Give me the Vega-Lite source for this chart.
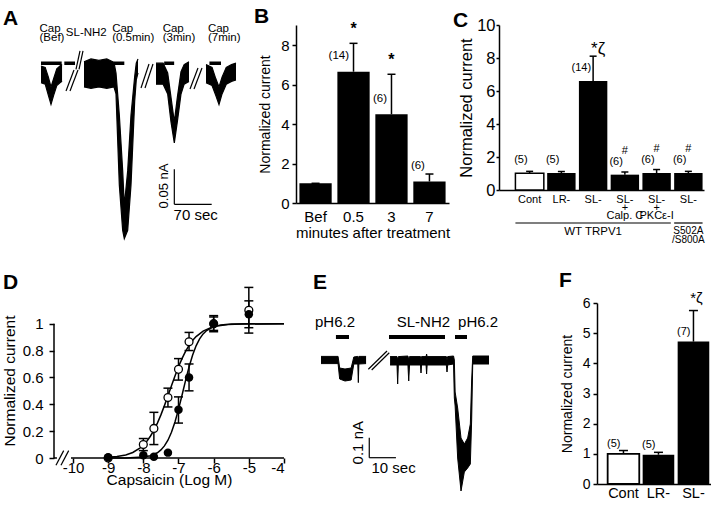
{
  "$schema": "https://vega.github.io/schema/vega-lite/v6.json",
  "padding": {"left": 2, "top": 6, "right": 0, "bottom": 0},
  "config": {
    "font": "Liberation Sans",
    "view": {"stroke": null},
    "axis": {"grid": false, "labelOverlap": false, "domainColor": "black", "tickColor": "black", "labelColor": "black", "titleColor": "black", "titleFontWeight": "normal", "domainWidth": 1.5, "tickWidth": 1.5},
    "title": {"fontWeight": "bold", "fontSize": 21, "anchor": "start", "frame": "group", "color": "black", "baseline": "alphabetic"}
  },
  "spacing": 24,
  "vconcat": [
    {
      "hconcat": [
        {
          "width": 192, "height": 214,
          "title": {"text": "A", "dx": -51, "offset": 1, "dy": 7},
          "layer": [
            {"data": {"name": "traceA"}, "mark": {"type": "area", "color": "black"},
             "encoding": {
               "x": {"field": "t", "type": "quantitative", "scale": {"domain": [24.7, 389.5], "nice": false, "zero": false}, "axis": null},
               "y": {"field": "lo", "type": "quantitative", "scale": {"domain": [-0.2374, 0.0686], "nice": false, "zero": false}, "axis": null},
               "y2": {"field": "hi"},
               "detail": {"field": "seg"}}},
            {"data": {"name": "traceA"}, "mark": {"type": "line", "color": "black", "strokeWidth": 1.2},
             "encoding": {"x": {"field": "t", "type": "quantitative"}, "y": {"field": "lo", "type": "quantitative"}, "detail": {"field": "seg"}}},
            {"data": {"name": "traceA"}, "mark": {"type": "line", "color": "black", "strokeWidth": 1.2},
             "encoding": {"x": {"field": "t", "type": "quantitative"}, "y": {"field": "hi", "type": "quantitative"}, "detail": {"field": "seg"}}},
            {"data": {"name": "breaksA"}, "mark": {"type": "rule", "color": "black", "strokeWidth": 1.2},
             "encoding": {"x": {"field": "t1", "type": "quantitative"}, "x2": {"field": "t2"}, "y": {"field": "i1", "type": "quantitative"}, "y2": {"field": "i2"}}},
            {"data": {"name": "appsA"}, "mark": {"type": "rule", "color": "black", "strokeWidth": 3.5},
             "encoding": {"x": {"field": "start", "type": "quantitative"}, "x2": {"field": "end"}, "y": {"datum": 0.0139, "type": "quantitative"}}},
            {"data": {"name": "appsA"}, "transform": [{"filter": "datum.label !== 'SL-NH2'"}],
             "mark": {"type": "text", "align": "left", "baseline": "middle", "dx": -1.5, "dy": -4.5, "fontSize": 11.5, "lineBreak": "\n", "lineHeight": 9},
             "encoding": {"x": {"field": "start", "type": "quantitative"}, "y": {"datum": 0.0565, "type": "quantitative"}, "text": {"field": "label"}}},
            {"data": {"name": "appsA"}, "transform": [{"filter": "datum.label === 'SL-NH2'"}],
             "mark": {"type": "text", "align": "left", "baseline": "middle", "dx": 1.5, "fontSize": 11.5},
             "encoding": {"x": {"field": "start", "type": "quantitative"}, "y": {"datum": 0.0565, "type": "quantitative"}, "text": {"field": "label"}}},
            {"data": {"values": [{}]}, "mark": {"type": "rule", "color": "black", "strokeWidth": 1.2},
             "encoding": {"x": {"datum": 253.3, "type": "quantitative"}, "y": {"datum": -0.1377, "type": "quantitative"}, "y2": {"datum": -0.1878}}},
            {"data": {"values": [{}]}, "mark": {"type": "rule", "color": "black", "strokeWidth": 1.2},
             "encoding": {"x": {"datum": 253.3, "type": "quantitative"}, "x2": {"datum": 324.3}, "y": {"datum": -0.1878, "type": "quantitative"}}},
            {"data": {"values": [{}]}, "mark": {"type": "text", "angle": 270, "baseline": "middle", "fontSize": 13},
             "encoding": {"x": {"datum": 234.3, "type": "quantitative"}, "y": {"datum": -0.1616, "type": "quantitative"}, "text": {"value": "0.05 nA"}}},
            {"data": {"values": [{}]}, "mark": {"type": "text", "baseline": "middle", "fontSize": 15},
             "encoding": {"x": {"datum": 293.9, "type": "quantitative"}, "y": {"datum": -0.203, "type": "quantitative"}, "text": {"value": "70 sec"}}}
          ]
        },
        {
          "width": 153, "height": 178,
          "title": {"text": "B", "dx": -42, "offset": 1, "dy": 7},
          "data": {"name": "barsB"},
          "encoding": {"x": {"field": "time", "type": "nominal", "sort": null, "scale": {"paddingInner": 0.15, "paddingOuter": 0.09},
            "axis": {"title": "minutes after treatment", "labelAngle": 0, "ticks": false, "labelFontSize": 15, "titleFontSize": 15, "labelPadding": 6, "titlePadding": 1}}},
          "layer": [
            {"mark": {"type": "bar", "color": "black"},
             "encoding": {"y": {"field": "mean", "type": "quantitative", "scale": {"domain": [0, 9.03], "nice": false},
               "axis": {"title": "Normalized current", "values": [0, 2, 4, 6, 8], "tickCount": 20, "format": "d", "tickSize": 4, "labelFontSize": 15, "titleFontSize": 14, "labelPadding": 3, "titlePadding": 8}}}},
            {"mark": {"type": "rule", "color": "black", "strokeWidth": 1.5},
             "encoding": {"y": {"field": "mean", "type": "quantitative"}, "y2": {"field": "upper"}}},
            {"mark": {"type": "tick", "color": "black", "size": 8, "thickness": 1.5, "opacity": 1},
             "encoding": {"y": {"field": "upper", "type": "quantitative"}}},
            {"mark": {"type": "text", "align": "right", "baseline": "middle", "dx": -4.5, "dy": -15.5, "fontSize": 11.5},
             "encoding": {"y": {"field": "mean", "type": "quantitative"}, "text": {"field": "n"}}},
            {"mark": {"type": "text", "baseline": "middle", "dy": -14, "fontSize": 16, "fontWeight": "bold"},
             "encoding": {"y": {"field": "upper", "type": "quantitative"}, "text": {"field": "sig"}}}
          ]
        },
        {
          "width": 205, "height": 165,
          "title": {"text": "C", "dx": -46, "offset": 1, "dy": 14.5},
          "data": {"name": "barsC"},
          "encoding": {"x": {"field": "group", "type": "nominal",
            "scale": {"domain": ["Cont", "LR-", "SL-", "SL-|+|Calp. C\u00a0\u00a0\u00a0\u00a0", "SL-|+|\u00a0PKCε-I", "SL- S502A/S800A"], "paddingInner": 0.105, "paddingOuter": 0.281, "align": 0.92},
            "axis": {"title": null, "labelAngle": 0, "ticks": false, "labelFontSize": 11, "labelPadding": 3, "labelLineHeight": 8,
              "labelExpr": "indexof(datum.value, 'S502A') >= 0 ? 'SL-' : split(datum.value, '|')"}}},
          "layer": [
            {"mark": {"type": "bar", "stroke": "black"},
             "encoding": {
               "y": {"field": "mean", "type": "quantitative", "scale": {"domain": [0, 10], "nice": false},
                 "axis": {"title": "Normalized current", "values": [0, 2, 4, 6, 8, 10], "tickCount": 20, "format": "d", "tickSize": 3, "labelFontSize": 16.5, "titleFontSize": 16.5, "labelPadding": 1, "titlePadding": 2}},
               "fill": {"condition": {"test": "datum.group === 'Cont'", "value": "white"}, "value": "black"},
               "strokeWidth": {"condition": {"test": "datum.group === 'Cont'", "value": 1.5}, "value": 0}}},
            {"mark": {"type": "rule", "color": "black", "strokeWidth": 1.5},
             "encoding": {"y": {"field": "mean", "type": "quantitative"}, "y2": {"field": "upper"}}},
            {"mark": {"type": "tick", "color": "black", "size": 7, "thickness": 1.5, "opacity": 1},
             "encoding": {"y": {"field": "upper", "type": "quantitative"}}},
            {"mark": {"type": "text", "align": "right", "baseline": "middle", "dx": -2, "dy": -13, "fontSize": 11},
             "encoding": {"y": {"field": "mean", "type": "quantitative"}, "text": {"field": "n"}}},
            {"mark": {"type": "text", "baseline": "middle", "dy": -24, "fontSize": 11},
             "encoding": {"y": {"field": "mean", "type": "quantitative"}, "text": {"field": "hash"}}},
            {"mark": {"type": "text", "baseline": "middle", "dx": 5, "dy": -7, "fontSize": 17},
             "encoding": {"y": {"field": "upper", "type": "quantitative"}, "text": {"field": "sig"}}},
            {"data": {"name": "bracketsC"}, "mark": {"type": "rule", "color": "black", "strokeWidth": 1.2},
             "encoding": {"x": {"field": "from", "type": "nominal", "bandPosition": 0}, "x2": {"field": "to", "bandPosition": 1}, "y": {"datum": -2, "type": "quantitative"}}},
            {"data": {"name": "bracketsC"}, "mark": {"type": "text", "baseline": "top", "dy": 3, "lineBreak": "\n", "lineHeight": 8.5},
             "encoding": {"x": {"field": "at", "type": "nominal"}, "y": {"datum": -2, "type": "quantitative"}, "text": {"field": "label"},
               "size": {"condition": {"test": "datum.label === 'WT TRPV1'", "value": 11.5}, "value": 10}}}
          ]
        }
      ],
      "spacing": 50,
      "bounds": "flush"
    },
    {
      "hconcat": [
        {
          "width": 230, "height": 155,
          "title": {"text": "D", "dx": -51, "offset": 13, "dy": 19},
          "layer": [
            {"data": {"name": "fitD"}, "mark": {"type": "line", "color": "black", "strokeWidth": 1.5},
             "encoding": {
               "x": {"field": "logc", "type": "quantitative", "scale": {"domain": [-10.54, -4], "nice": false, "zero": false},
                 "axis": {"title": "Capsaicin (Log M)", "values": [-10, -9, -8, -7, -6, -5, -4], "tickCount": 20, "domain": false, "tickSize": 5, "labelFontSize": 15, "titleFontSize": 15.5, "labelPadding": -3, "titlePadding": -3,
                   "labelExpr": "datum.value < 0 ? '-' + abs(datum.value) : datum.label"}},
               "y": {"field": "resp", "type": "quantitative", "scale": {"domain": [0, 1.154], "nice": false},
                 "axis": {"title": "Normalized current", "values": [0, 0.2, 0.4, 0.6, 0.8, 1], "tickCount": 20, "format": "~g", "domain": false, "tickSize": 5, "labelFontSize": 15, "titleFontSize": 15.5, "labelPadding": 6, "titlePadding": 5}},
               "detail": {"field": "group"}}},
            {"data": {"values": [{}]}, "mark": {"type": "rule", "color": "black", "strokeWidth": 1.5},
             "encoding": {"x": {"datum": -10.54, "type": "quantitative"}, "y": {"datum": 0, "type": "quantitative"}, "y2": {"datum": 1}}},
            {"data": {"values": [{}]}, "mark": {"type": "rule", "color": "black", "strokeWidth": 1.5},
             "encoding": {"x": {"datum": -10.54, "type": "quantitative"}, "x2": {"datum": -10.456}, "y": {"datum": 0, "type": "quantitative"}}},
            {"data": {"values": [{}]}, "mark": {"type": "rule", "color": "black", "strokeWidth": 1.5},
             "encoding": {"x": {"datum": -10.057, "type": "quantitative"}, "x2": {"datum": -4}, "y": {"datum": 0, "type": "quantitative"}}},
            {"data": {"values": [{}]}, "mark": {"type": "rule", "color": "black", "strokeWidth": 1.2},
             "encoding": {"x": {"datum": -10.484, "type": "quantitative"}, "x2": {"datum": -10.265}, "y": {"datum": -0.054, "type": "quantitative"}, "y2": {"datum": 0.055}}},
            {"data": {"values": [{}]}, "mark": {"type": "rule", "color": "black", "strokeWidth": 1.2},
             "encoding": {"x": {"datum": -10.342, "type": "quantitative"}, "x2": {"datum": -10.123}, "y": {"datum": -0.054, "type": "quantitative"}, "y2": {"datum": 0.055}}},
            {"data": {"name": "pointsD"}, "transform": [{"filter": "datum.upper > datum.lower"}], "mark": {"type": "rule", "color": "black", "strokeWidth": 1.5},
             "encoding": {"x": {"field": "logc", "type": "quantitative"}, "y": {"field": "lower", "type": "quantitative"}, "y2": {"field": "upper"}}},
            {"data": {"name": "pointsD"}, "transform": [{"filter": "datum.upper > datum.lower"}], "mark": {"type": "tick", "orient": "horizontal", "color": "black", "size": 9, "thickness": 1.5, "opacity": 1},
             "encoding": {"x": {"field": "logc", "type": "quantitative"}, "y": {"field": "upper", "type": "quantitative"}}},
            {"data": {"name": "pointsD"}, "transform": [{"filter": "datum.upper > datum.lower"}], "mark": {"type": "tick", "orient": "horizontal", "color": "black", "size": 9, "thickness": 1.5, "opacity": 1},
             "encoding": {"x": {"field": "logc", "type": "quantitative"}, "y": {"field": "lower", "type": "quantitative"}}},
            {"data": {"name": "pointsD"}, "transform": [{"filter": "datum.group === 'open'"}], "mark": {"type": "point", "filled": true, "fill": "white", "stroke": "black", "strokeWidth": 1.3, "size": 62, "opacity": 1},
             "encoding": {"x": {"field": "logc", "type": "quantitative"}, "y": {"field": "resp", "type": "quantitative"}}},
            {"data": {"name": "pointsD"}, "transform": [{"filter": "datum.group === 'filled'"}], "mark": {"type": "point", "filled": true, "color": "black", "size": 72, "opacity": 1},
             "encoding": {"x": {"field": "logc", "type": "quantitative"}, "y": {"field": "resp", "type": "quantitative"}}}
          ]
        },
        {
          "width": 293, "height": 195,
          "title": {"text": "E", "dx": 19, "offset": 13, "dy": 3},
          "layer": [
            {"data": {"name": "traceE"}, "mark": {"type": "area", "color": "black"},
             "encoding": {
               "x": {"field": "t", "type": "quantitative", "scale": {"domain": [-10.125, 99.75], "nice": false, "zero": false}, "axis": null},
               "y": {"field": "lo", "type": "quantitative", "scale": {"domain": [-0.69, 0.285], "nice": false, "zero": false}, "axis": null},
               "y2": {"field": "hi"},
               "detail": {"field": "seg"}}},
            {"data": {"name": "traceE"}, "mark": {"type": "line", "color": "black", "strokeWidth": 1},
             "encoding": {"x": {"field": "t", "type": "quantitative"}, "y": {"field": "lo", "type": "quantitative"}, "detail": {"field": "seg"}}},
            {"data": {"name": "traceE"}, "mark": {"type": "line", "color": "black", "strokeWidth": 1},
             "encoding": {"x": {"field": "t", "type": "quantitative"}, "y": {"field": "hi", "type": "quantitative"}, "detail": {"field": "seg"}}},
            {"data": {"name": "breaksE"}, "mark": {"type": "rule", "color": "black", "strokeWidth": 1.2},
             "encoding": {"x": {"field": "t1", "type": "quantitative"}, "x2": {"field": "t2"}, "y": {"field": "i1", "type": "quantitative"}, "y2": {"field": "i2"}}},
            {"data": {"name": "appsE"}, "mark": {"type": "rule", "color": "black", "strokeWidth": 4},
             "encoding": {"x": {"field": "start", "type": "quantitative"}, "x2": {"field": "end"}, "y": {"datum": 0.115, "type": "quantitative"}}},
            {"data": {"name": "appsE"}, "mark": {"type": "text", "baseline": "middle", "fontSize": 15},
             "encoding": {"x": {"field": "label_t", "type": "quantitative"}, "y": {"datum": 0.19, "type": "quantitative"}, "text": {"field": "label"}}},
            {"data": {"values": [{}]}, "mark": {"type": "rule", "color": "black", "strokeWidth": 1.2},
             "encoding": {"x": {"datum": 18.1, "type": "quantitative"}, "y": {"datum": -0.3885, "type": "quantitative"}, "y2": {"datum": -0.4885}}},
            {"data": {"values": [{}]}, "mark": {"type": "rule", "color": "black", "strokeWidth": 1.2},
             "encoding": {"x": {"datum": 18.1, "type": "quantitative"}, "x2": {"datum": 28.1}, "y": {"datum": -0.4885, "type": "quantitative"}}},
            {"data": {"values": [{}]}, "mark": {"type": "text", "angle": 270, "baseline": "middle", "fontSize": 15},
             "encoding": {"x": {"datum": 14.06, "type": "quantitative"}, "y": {"datum": -0.4135, "type": "quantitative"}, "text": {"value": "0.1 nA"}}},
            {"data": {"values": [{}]}, "mark": {"type": "text", "baseline": "middle", "fontSize": 15},
             "encoding": {"x": {"datum": 27.2, "type": "quantitative"}, "y": {"datum": -0.5385, "type": "quantitative"}, "text": {"value": "10 sec"}}}
          ]
        },
        {
          "width": 114, "height": 181,
          "title": {"text": "F", "dx": -38, "offset": 13, "dy": 13},
          "data": {"name": "barsF"},
          "encoding": {"x": {"field": "group", "type": "nominal", "sort": null,
            "scale": {"paddingInner": 0.097, "paddingOuter": 0.177, "align": 0.86},
            "axis": {"title": null, "labelAngle": 0, "ticks": false, "labelFontSize": 14.5, "labelPadding": 2}}},
          "layer": [
            {"mark": {"type": "bar", "stroke": "black"},
             "encoding": {
               "y": {"field": "mean", "type": "quantitative", "scale": {"domain": [0, 6], "nice": false},
                 "axis": {"title": "Normalized current", "values": [0, 1, 2, 3, 4, 5, 6], "tickCount": 20, "format": "d", "tickSize": 4, "labelFontSize": 14, "titleFontSize": 14, "labelPadding": 3, "titlePadding": 8}},
               "fill": {"condition": {"test": "datum.group === 'Cont'", "value": "white"}, "value": "black"},
               "strokeWidth": {"condition": {"test": "datum.group === 'Cont'", "value": 1.8}, "value": 0}}},
            {"mark": {"type": "rule", "color": "black", "strokeWidth": 1.5},
             "encoding": {"y": {"field": "mean", "type": "quantitative"}, "y2": {"field": "upper"}}},
            {"mark": {"type": "tick", "color": "black", "size": 9, "thickness": 1.5, "opacity": 1},
             "encoding": {"y": {"field": "upper", "type": "quantitative"}}},
            {"mark": {"type": "text", "align": "right", "baseline": "middle", "dx": -3, "dy": -9.5, "fontSize": 11},
             "encoding": {"y": {"field": "mean", "type": "quantitative"}, "text": {"field": "n"}}},
            {"mark": {"type": "text", "baseline": "middle", "dx": 3, "dy": -13, "fontSize": 15},
             "encoding": {"y": {"field": "upper", "type": "quantitative"}, "text": {"field": "sig"}}}
          ]
        }
      ],
      "spacing": 10,
      "bounds": "flush"
    }
  ],
  "datasets": {
    "traceA": [
      {"seg": "bef", "t": 0, "lo": -0.014, "hi": 0.01},
      {"seg": "bef", "t": 8, "lo": -0.016, "hi": 0.008},
      {"seg": "bef", "t": 14, "lo": -0.032, "hi": -0.006},
      {"seg": "bef", "t": 19, "lo": -0.045, "hi": -0.02},
      {"seg": "bef", "t": 24, "lo": -0.032, "hi": -0.008},
      {"seg": "bef", "t": 30, "lo": -0.018, "hi": 0.006},
      {"seg": "bef", "t": 36, "lo": -0.014, "hi": 0.01},
      {"seg": "bef", "t": 40, "lo": -0.012, "hi": 0.012},
      {"seg": "sl05", "t": 81.7, "lo": -0.02, "hi": 0.016},
      {"seg": "sl05", "t": 95, "lo": -0.022, "hi": 0.02},
      {"seg": "sl05", "t": 110, "lo": -0.02, "hi": 0.018},
      {"seg": "sl05", "t": 125, "lo": -0.022, "hi": 0.02},
      {"seg": "sl05", "t": 138.7, "lo": -0.02, "hi": 0.015},
      {"seg": "sl05", "t": 142.5, "lo": -0.03, "hi": 0.0},
      {"seg": "sl05", "t": 148.8, "lo": -0.16, "hi": -0.06},
      {"seg": "sl05", "t": 155.2, "lo": -0.225, "hi": -0.14},
      {"seg": "sl05", "t": 158.3, "lo": -0.237, "hi": -0.19},
      {"seg": "sl05", "t": 164.7, "lo": -0.225, "hi": -0.14},
      {"seg": "sl05", "t": 171, "lo": -0.16, "hi": -0.06},
      {"seg": "sl05", "t": 178, "lo": -0.04, "hi": -0.005},
      {"seg": "sl05", "t": 181, "lo": -0.01, "hi": 0.014},
      {"seg": "sl05", "t": 184.3, "lo": 0.0, "hi": 0.02},
      {"seg": "m3", "t": 218.5, "lo": -0.016, "hi": 0.014},
      {"seg": "m3", "t": 232, "lo": -0.016, "hi": 0.014},
      {"seg": "m3", "t": 240.7, "lo": -0.03, "hi": 0.0},
      {"seg": "m3", "t": 247, "lo": -0.07, "hi": -0.035},
      {"seg": "m3", "t": 253.3, "lo": -0.1, "hi": -0.07},
      {"seg": "m3", "t": 259, "lo": -0.07, "hi": -0.035},
      {"seg": "m3", "t": 266, "lo": -0.03, "hi": 0.002},
      {"seg": "m3", "t": 272, "lo": -0.016, "hi": 0.012},
      {"seg": "m3", "t": 281.2, "lo": -0.012, "hi": 0.016},
      {"seg": "m7", "t": 313.5, "lo": -0.014, "hi": 0.012},
      {"seg": "m7", "t": 325, "lo": -0.018, "hi": 0.008},
      {"seg": "m7", "t": 332, "lo": -0.032, "hi": -0.008},
      {"seg": "m7", "t": 338.2, "lo": -0.045, "hi": -0.02},
      {"seg": "m7", "t": 344, "lo": -0.03, "hi": -0.006},
      {"seg": "m7", "t": 352, "lo": -0.016, "hi": 0.008},
      {"seg": "m7", "t": 362, "lo": -0.012, "hi": 0.012},
      {"seg": "m7", "t": 370.5, "lo": -0.01, "hi": 0.014}
    ],
    "breaksA": [
      {"t1": 47.5, "i1": -0.0257, "t2": 62.7, "i2": 0.0043},
      {"t1": 55.1, "i1": -0.0257, "t2": 70.3, "i2": 0.0043},
      {"t1": 190, "i1": -0.0215, "t2": 205.2, "i2": 0.0129},
      {"t1": 197.6, "i1": -0.0215, "t2": 212.8, "i2": 0.0129},
      {"t1": 283.1, "i1": -0.0229, "t2": 298.3, "i2": 0.0072},
      {"t1": 290.7, "i1": -0.0229, "t2": 305.9, "i2": 0.0072},
      {"t1": 66.5, "i1": 0.0053, "t2": 74.1, "i2": 0.0315},
      {"t1": 72.2, "i1": 0.0053, "t2": 79.8, "i2": 0.0315}
    ],
    "appsA": [
      {"label": "Cap\n(Bef)", "start": 0, "end": 39.3},
      {"label": "SL-NH2", "start": 44.3, "end": 64.6},
      {"label": "", "start": 82.3, "end": 127.9},
      {"label": "Cap\n(0.5min)", "start": 138, "end": 158.3},
      {"label": "Cap\n(3min)", "start": 234, "end": 253},
      {"label": "Cap\n(7min)", "start": 320, "end": 342}
    ],
    "barsB": [
      {"time": "Bef", "mean": 1.0, "upper": 1.0, "n": "", "sig": ""},
      {"time": "0.5", "mean": 6.66, "upper": 8.1, "n": "(14)", "sig": "*"},
      {"time": "3", "mean": 4.5, "upper": 6.53, "n": "(6)", "sig": "*"},
      {"time": "7", "mean": 1.09, "upper": 1.47, "n": "(6)", "sig": ""}
    ],
    "barsC": [
      {"group": "Cont", "mean": 1.01, "upper": 1.13, "n": "(5)", "sig": "", "hash": ""},
      {"group": "LR-", "mean": 1.03, "upper": 1.12, "n": "(5)", "sig": "", "hash": ""},
      {"group": "SL-", "mean": 6.61, "upper": 8.11, "n": "(14)", "sig": "*ζ", "hash": ""},
      {"group": "SL-|+|Calp. C\u00a0\u00a0\u00a0\u00a0", "mean": 0.93, "upper": 1.09, "n": "(6)", "sig": "", "hash": "#"},
      {"group": "SL-|+|\u00a0PKCε-I", "mean": 1.03, "upper": 1.24, "n": "(6)", "sig": "", "hash": "#"},
      {"group": "SL- S502A/S800A", "mean": 1.03, "upper": 1.13, "n": "(6)", "sig": "", "hash": "#"}
    ],
    "bracketsC": [
      {"from": "Cont", "to": "SL-|+|\u00a0PKCε-I", "at": "SL-", "label": "WT TRPV1"},
      {"from": "SL- S502A/S800A", "to": "SL- S502A/S800A", "at": "SL- S502A/S800A", "label": "S502A\n/S800A"}
    ],
    "fitD": [
      {"group": "open", "logc": -9, "resp": 0.005},
      {"group": "open", "logc": -8.75, "resp": 0.011},
      {"group": "open", "logc": -8.5, "resp": 0.023},
      {"group": "open", "logc": -8.3, "resp": 0.041},
      {"group": "open", "logc": -8.1, "resp": 0.073},
      {"group": "open", "logc": -8.0, "resp": 0.096},
      {"group": "open", "logc": -7.9, "resp": 0.125},
      {"group": "open", "logc": -7.8, "resp": 0.162},
      {"group": "open", "logc": -7.7, "resp": 0.206},
      {"group": "open", "logc": -7.6, "resp": 0.26},
      {"group": "open", "logc": -7.5, "resp": 0.321},
      {"group": "open", "logc": -7.4, "resp": 0.39},
      {"group": "open", "logc": -7.3, "resp": 0.463},
      {"group": "open", "logc": -7.2, "resp": 0.537},
      {"group": "open", "logc": -7.1, "resp": 0.61},
      {"group": "open", "logc": -7.0, "resp": 0.679},
      {"group": "open", "logc": -6.9, "resp": 0.74},
      {"group": "open", "logc": -6.8, "resp": 0.794},
      {"group": "open", "logc": -6.7, "resp": 0.838},
      {"group": "open", "logc": -6.6, "resp": 0.875},
      {"group": "open", "logc": -6.5, "resp": 0.904},
      {"group": "open", "logc": -6.3, "resp": 0.945},
      {"group": "open", "logc": -6.1, "resp": 0.969},
      {"group": "open", "logc": -5.9, "resp": 0.983},
      {"group": "open", "logc": -5.6, "resp": 0.993},
      {"group": "open", "logc": -5.2, "resp": 0.998},
      {"group": "open", "logc": -4.0, "resp": 1.0},
      {"group": "filled", "logc": -9, "resp": 0.0001},
      {"group": "filled", "logc": -8.5, "resp": 0.0008},
      {"group": "filled", "logc": -8.0, "resp": 0.007},
      {"group": "filled", "logc": -7.8, "resp": 0.017},
      {"group": "filled", "logc": -7.6, "resp": 0.039},
      {"group": "filled", "logc": -7.5, "resp": 0.06},
      {"group": "filled", "logc": -7.4, "resp": 0.09},
      {"group": "filled", "logc": -7.3, "resp": 0.132},
      {"group": "filled", "logc": -7.2, "resp": 0.191},
      {"group": "filled", "logc": -7.1, "resp": 0.268},
      {"group": "filled", "logc": -7.0, "resp": 0.362},
      {"group": "filled", "logc": -6.9, "resp": 0.467},
      {"group": "filled", "logc": -6.8, "resp": 0.576},
      {"group": "filled", "logc": -6.7, "resp": 0.678},
      {"group": "filled", "logc": -6.6, "resp": 0.765},
      {"group": "filled", "logc": -6.5, "resp": 0.835},
      {"group": "filled", "logc": -6.4, "resp": 0.887},
      {"group": "filled", "logc": -6.3, "resp": 0.924},
      {"group": "filled", "logc": -6.2, "resp": 0.949},
      {"group": "filled", "logc": -6.0, "resp": 0.978},
      {"group": "filled", "logc": -5.8, "resp": 0.991},
      {"group": "filled", "logc": -5.5, "resp": 0.9975},
      {"group": "filled", "logc": -4.0, "resp": 1.0}
    ],
    "pointsD": [
      {"group": "open", "logc": -9, "resp": 0.0, "lower": 0.0, "upper": 0.0},
      {"group": "open", "logc": -8, "resp": 0.1, "lower": 0.055, "upper": 0.145},
      {"group": "open", "logc": -7.7, "resp": 0.22, "lower": 0.1, "upper": 0.34},
      {"group": "open", "logc": -7.3, "resp": 0.45, "lower": 0.38, "upper": 0.52},
      {"group": "open", "logc": -7, "resp": 0.66, "lower": 0.58, "upper": 0.74},
      {"group": "open", "logc": -6.7, "resp": 0.865, "lower": 0.8, "upper": 0.935},
      {"group": "open", "logc": -6, "resp": 1.0, "lower": 0.94, "upper": 1.06},
      {"group": "open", "logc": -5, "resp": 1.1, "lower": 0.93, "upper": 1.27},
      {"group": "filled", "logc": -9, "resp": 0.005, "lower": 0.005, "upper": 0.005},
      {"group": "filled", "logc": -8, "resp": 0.02, "lower": 0.02, "upper": 0.02},
      {"group": "filled", "logc": -7.7, "resp": 0.01, "lower": 0.01, "upper": 0.01},
      {"group": "filled", "logc": -7.3, "resp": 0.04, "lower": 0.04, "upper": 0.04},
      {"group": "filled", "logc": -7, "resp": 0.36, "lower": 0.26, "upper": 0.455},
      {"group": "filled", "logc": -6.7, "resp": 0.6, "lower": 0.5, "upper": 0.7},
      {"group": "filled", "logc": -6, "resp": 1.0, "lower": 0.95, "upper": 1.05},
      {"group": "filled", "logc": -5, "resp": 1.07, "lower": 0.97, "upper": 1.17}
    ],
    "traceE": [
      {"seg": "ph1", "t": 0, "lo": -0.018, "hi": 0.018},
      {"seg": "ph1", "t": 6.4, "lo": -0.018, "hi": 0.018},
      {"seg": "ph1", "t": 7.0, "lo": -0.095, "hi": -0.04},
      {"seg": "ph1", "t": 9.0, "lo": -0.105, "hi": -0.045},
      {"seg": "ph1", "t": 11.3, "lo": -0.1, "hi": -0.04},
      {"seg": "ph1", "t": 12.3, "lo": -0.02, "hi": 0.015},
      {"seg": "ph1", "t": 13.8, "lo": -0.02, "hi": 0.018},
      {"seg": "ph1", "t": 14.0, "lo": -0.113, "hi": 0.0},
      {"seg": "ph1", "t": 14.2, "lo": -0.02, "hi": 0.018},
      {"seg": "ph1", "t": 16.9, "lo": -0.018, "hi": 0.018},
      {"seg": "sl", "t": 25.9, "lo": -0.025, "hi": 0.017},
      {"seg": "sl", "t": 28.5, "lo": -0.025, "hi": 0.017},
      {"seg": "sl", "t": 28.75, "lo": -0.12, "hi": 0.0},
      {"seg": "sl", "t": 29.0, "lo": -0.025, "hi": 0.017},
      {"seg": "sl", "t": 32.6, "lo": -0.025, "hi": 0.02},
      {"seg": "sl", "t": 32.9, "lo": -0.105, "hi": 0.0},
      {"seg": "sl", "t": 33.2, "lo": -0.025, "hi": 0.017},
      {"seg": "sl", "t": 37.3, "lo": -0.025, "hi": 0.017},
      {"seg": "sl", "t": 37.5, "lo": -0.065, "hi": 0.0},
      {"seg": "sl", "t": 37.7, "lo": -0.025, "hi": 0.017},
      {"seg": "sl", "t": 39.4, "lo": -0.025, "hi": 0.017},
      {"seg": "sl", "t": 39.6, "lo": -0.07, "hi": 0.03},
      {"seg": "sl", "t": 39.8, "lo": -0.025, "hi": 0.017},
      {"seg": "sl", "t": 47.0, "lo": -0.025, "hi": 0.017},
      {"seg": "sl", "t": 47.25, "lo": -0.06, "hi": 0.0},
      {"seg": "sl", "t": 47.5, "lo": -0.025, "hi": 0.017},
      {"seg": "sl", "t": 49.7, "lo": -0.02, "hi": 0.02},
      {"seg": "sl", "t": 50.0, "lo": -0.19, "hi": 0.0},
      {"seg": "sl", "t": 50.3, "lo": -0.23, "hi": -0.16},
      {"seg": "sl", "t": 51.25, "lo": -0.49, "hi": -0.24},
      {"seg": "sl", "t": 52.5, "lo": -0.655, "hi": -0.39},
      {"seg": "sl", "t": 53.75, "lo": -0.56, "hi": -0.42},
      {"seg": "sl", "t": 55.0, "lo": -0.54, "hi": -0.39},
      {"seg": "sl", "t": 56.0, "lo": -0.52, "hi": -0.32},
      {"seg": "sl", "t": 56.5, "lo": -0.3, "hi": -0.1},
      {"seg": "sl", "t": 56.9, "lo": -0.02, "hi": 0.02},
      {"seg": "sl", "t": 63.0, "lo": -0.02, "hi": 0.02}
    ],
    "breaksE": [
      {"t1": 17.75, "i1": -0.0465, "t2": 24.75, "i2": 0.045},
      {"t1": 19.0, "i1": -0.05, "t2": 25.6, "i2": 0.0365}
    ],
    "appsE": [
      {"label": "pH6.2", "label_t": 5.25, "start": 5.6, "end": 10.5},
      {"label": "SL-NH2", "label_t": 38.4, "start": 25.5, "end": 46.5},
      {"label": "pH6.2", "label_t": 58.9, "start": 50.25, "end": 54.75}
    ],
    "barsF": [
      {"group": "Cont", "mean": 1.0, "upper": 1.11, "n": "(5)", "sig": ""},
      {"group": "LR-", "mean": 0.97, "upper": 1.05, "n": "(5)", "sig": ""},
      {"group": "SL-", "mean": 4.72, "upper": 5.75, "n": "(7)", "sig": "*ζ"}
    ]
  }
}
